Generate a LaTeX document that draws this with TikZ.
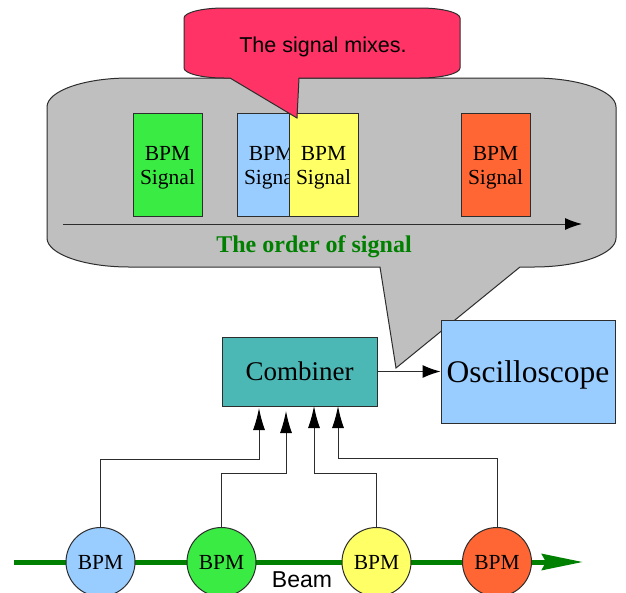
\documentclass[tikz,border=0pt]{standalone}
\usepackage{fontspec}
\setmainfont{Liberation Serif}
\newfontfamily\sansf{Liberation Sans}
\usetikzlibrary{arrows.meta}
\definecolor{bubblegray}{RGB}{191,191,191}
\definecolor{pinkc}{RGB}{255,51,102}
\definecolor{sgreen}{RGB}{58,235,68}
\definecolor{sblue}{RGB}{153,204,255}
\definecolor{syellow}{RGB}{255,255,102}
\definecolor{sorange}{RGB}{255,102,51}
\definecolor{tealc}{RGB}{76,184,181}
\definecolor{dgreen}{RGB}{0,128,0}
\definecolor{edgec}{RGB}{45,45,45}
\begin{document}
\begin{tikzpicture}[x=1pt,y=-1pt,
  outline/.style={draw=edgec, line width=1pt},
  sigbox/.style={outline, minimum width=69pt, minimum height=103pt, inner sep=0pt},
  sigtext/.style={align=center, inner sep=0pt, font=\fontsize{21.5}{24}\selectfont},
  bpm/.style={circle, outline, minimum size=69pt, inner sep=0pt, font=\fontsize{21.5}{24}\selectfont},
  conn/.style={draw=edgec, line width=1pt, -{Latex[length=22pt,width=12pt,color=black]}},
]
\useasboundingbox (0,0) rectangle (626,592);
\fill[white] (0,0) rectangle (626,592);

% gray speech bubble
\path[outline, fill=bubblegray] (129,78) -- (534,78)
  .. controls (579,78) and (616,91) .. (616,107) -- (616,238)
  .. controls (616,254) and (579,267) .. (534,267) -- (520,267) -- (396,368) -- (380,267) -- (129,267)
  .. controls (84,267) and (47,254) .. (47,238) -- (47,107)
  .. controls (47,91) and (84,78) .. (129,78) -- cycle;

% signal boxes
\node[sigbox, fill=sgreen] (s1) at (167.5,164.5) {};
\node[sigtext] (t1) at (167.5,167.3) {BPM\\Signal};
\node[sigbox, fill=sblue] (s2) at (271.5,164.5) {};
\node[sigtext] (t2) at (271.5,167.3) {BPM\\Signal};
\node[sigbox, fill=syellow] (s3) at (323.5,164.5) {};
\node[sigtext] (t3) at (323.5,167.3) {BPM\\Signal};
\node[sigbox, fill=sorange] (s4) at (495.5,164.5) {};
\node[sigtext] (t4) at (495.5,167.3) {BPM\\Signal};

% order arrow
\coordinate (o1) at (63,224);
\coordinate (o2) at (582,224);
\draw[draw=edgec, line width=1pt, -{Latex[length=17pt,width=12pt,color=black]}] (o1) -- (o2);
\node[anchor=base, inner sep=0pt, text=dgreen, font=\fontsize{24}{28}\selectfont\bfseries] (ord) at (314,252) {The order of signal};

% pink speech bubble
\path[outline, fill=pinkc] (224,8) -- (420,8)
  .. controls (442,8) and (460,12.5) .. (460,18) -- (460,68)
  .. controls (460,73.5) and (442,78) .. (420,78) -- (299,78) -- (297,118) -- (230,78) -- (224,78)
  .. controls (202,78) and (184,73.5) .. (184,68) -- (184,18)
  .. controls (184,12.5) and (202,8) .. (224,8) -- cycle;
\node[anchor=base, inner sep=0pt, font=\sansf\fontsize{21.5}{26}\selectfont] (mix) at (323,52) {The signal mixes.};

% combiner and oscilloscope
\node[outline, fill=tealc, minimum width=155pt, minimum height=69pt, inner sep=0pt,
  font=\fontsize{27}{30}\selectfont] (comb) at (299.5,371.5) {Combiner};
\node[outline, fill=sblue, minimum width=174pt, minimum height=103pt, inner sep=0pt, text depth=0pt,
  font=\fontsize{31.5}{34}\selectfont] (osc) at (528,371.5) {Oscilloscope};
\draw[draw=edgec, line width=1pt, -{Latex[length=18pt,width=13pt,color=black]}] (comb.east) -- (osc.west);

% beam
\coordinate (beamstart) at (14,562);
\coordinate (beamend) at (583,562);
\draw[dgreen, line width=5pt, -{Stealth[length=41pt,width=16pt,inset=4pt]}] (beamstart) -- (beamend);
\node[anchor=base, inner sep=0pt, font=\sansf\fontsize{23}{26}\selectfont] (beam) at (302,587) {Beam};

% BPMs
\node[bpm, fill=sblue] (b1) at (100.5,562) {BPM};
\node[bpm, fill=sgreen] (b2) at (221.5,562) {BPM};
\node[bpm, fill=syellow] (b3) at (376.5,562) {BPM};
\node[bpm, fill=sorange] (b4) at (497,562) {BPM};

% connections to combiner
\coordinate (c1) at (259,408);
\coordinate (c2) at (286,411);
\coordinate (c3) at (314,406);
\coordinate (c4) at (338,406);
\draw[conn] (b1.north) |- (c1 |- 0,459) -- (c1);
\draw[conn] (b2.north) |- (c2 |- 0,473) -- (c2);
\draw[conn] (b3.north) |- (c3 |- 0,473) -- (c3);
\draw[conn] (b4.north) |- (c4 |- 0,458) -- (c4);
\end{tikzpicture}
\end{document}
